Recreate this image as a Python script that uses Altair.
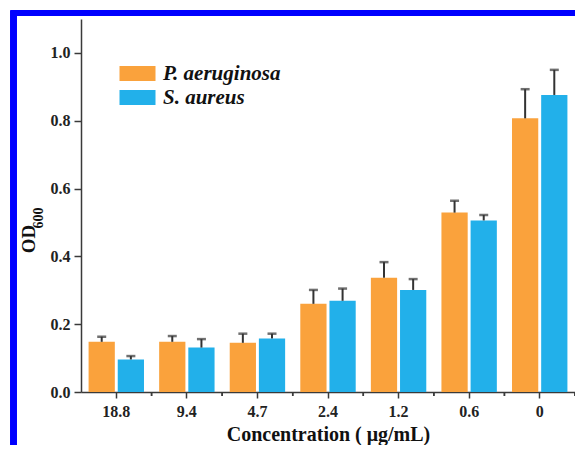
import altair as alt
import pandas as pd

conc = ["18.8", "9.4", "4.7", "2.4", "1.2", "0.6", "0"]
series = ["P. aeruginosa", "S. aureus"]
pa_mean = [0.148, 0.148, 0.145, 0.260, 0.337, 0.529, 0.807]
pa_err = [0.015, 0.017, 0.027, 0.041, 0.046, 0.035, 0.086]
sa_mean = [0.096, 0.131, 0.158, 0.269, 0.301, 0.506, 0.876]
sa_err = [0.010, 0.025, 0.014, 0.036, 0.032, 0.016, 0.074]
colors = ["#FAA23C", "#22B0EA"]
y_ticks = [0.0, 0.1, 0.2, 0.3, 0.4, 0.5, 0.6, 0.7, 0.8, 0.9, 1.0]

rows = []
for i, c in enumerate(conc):
    rows.append({"conc": c, "series": series[0], "value": pa_mean[i], "err": pa_err[i]})
    rows.append({"conc": c, "series": series[1], "value": sa_mean[i], "err": sa_err[i]})
df = pd.DataFrame(rows)

FONT = "Liberation Serif"
AX = "#3a3a3a"
W, H = 494, 373

x_enc = alt.X("conc:N", sort=conc,
              scale=alt.Scale(paddingInner=0, paddingOuter=0),
              axis=alt.Axis(title="Concentration ( μg/mL)", labelAngle=0,
                            tickSize=6, labelPadding=5, titlePadding=5,
                            titleFontSize=20))
xo_enc = alt.XOffset("series:N", sort=series,
                     scale=alt.Scale(paddingInner=0.1, paddingOuter=0.26))
y_enc = alt.Y("value:Q", scale=alt.Scale(domain=[0, 1.1], nice=False),
              axis=alt.Axis(title=None, values=y_ticks,
                            labelExpr="round(datum.value*10)%2==0 ? format(datum.value,'.1f') : ''",
                            tickSize={"condition": {"test": "round(datum.value*10)%2==0", "value": 7}, "value": 4},
                            labelPadding=4))

base = alt.Chart(df)

bars = base.mark_bar().encode(
    x=x_enc, xOffset=xo_enc, y=y_enc,
    color=alt.Color("series:N", sort=series,
                    scale=alt.Scale(domain=series, range=colors),
                    legend=alt.Legend(title=None, orient="none", legendX=46, legendY=44,
                                      symbolType="M-2,-0.83H2V0.83H-2Z", symbolSize=324,
                                      symbolStrokeWidth=0, labelFont=FONT, labelFontSize=21,
                                      labelFontStyle="italic", labelFontWeight="bold",
                                      labelColor="#111", labelOffset=15, rowPadding=2)),
)

err_rule = base.transform_calculate(upper="datum.value + datum.err").mark_rule(
    color="#333", strokeWidth=2).encode(
    x=alt.X("conc:N", sort=conc), xOffset=alt.XOffset("series:N", sort=series),
    y="value:Q", y2="upper:Q")

err_cap = base.transform_calculate(upper="datum.value + datum.err").mark_tick(
    color="#333", thickness=2.5, size=9, orient="horizontal").encode(
    x=alt.X("conc:N", sort=conc), xOffset=alt.XOffset("series:N", sort=series),
    y="upper:Q")

minor_x = base.mark_rule(color=AX, strokeWidth=1.5).encode(
    x=alt.X("conc:N", sort=conc, bandPosition=1),
    y=alt.value(H), y2=alt.value(H + 4))

title_df = pd.DataFrame({"t": ["OD"]})
yt_main = alt.Chart(title_df).mark_text(
    text="OD", font=FONT, fontSize=19, fontWeight="bold", color="#111",
    angle=270, align="center", baseline="alphabetic").encode(
    x=alt.value(-46), y=alt.value(220))
yt_sub = alt.Chart(title_df).mark_text(
    text="600", font=FONT, fontSize=14, fontWeight="bold", color="#111",
    angle=270, align="center", baseline="alphabetic").encode(
    x=alt.value(-38), y=alt.value(199))

frame_left = base.mark_rule(color="#0000FF", strokeWidth=5.5, clip=False).encode(
    x=alt.value(-67.5), y=alt.value(-8.5), y2=alt.value(H + 53))
frame_top = base.mark_rule(color="#0000FF", strokeWidth=5.5, clip=False).encode(
    x=alt.value(-70), x2=alt.value(W), y=alt.value(-6))

chart = alt.layer(bars, err_rule, err_cap, minor_x, yt_main, yt_sub, frame_left, frame_top).properties(
    width=W, height=H,
    autosize=alt.AutoSizeParams(type="none"),
    padding={"left": 73, "top": 11, "right": 0, "bottom": 53},
    background="white",
).configure_view(stroke=None).configure_axis(
    domainColor=AX, domainWidth=1.5, tickColor=AX, tickWidth=1.5, grid=False,
    labelFont=FONT, labelFontSize=16, labelFontWeight="bold", labelColor="#222",
    titleFont=FONT, titleFontSize=19, titleFontWeight="bold", titleColor="#111",
)

chart.save("out.html", embed_options={"renderer": "svg", "actions": False})
